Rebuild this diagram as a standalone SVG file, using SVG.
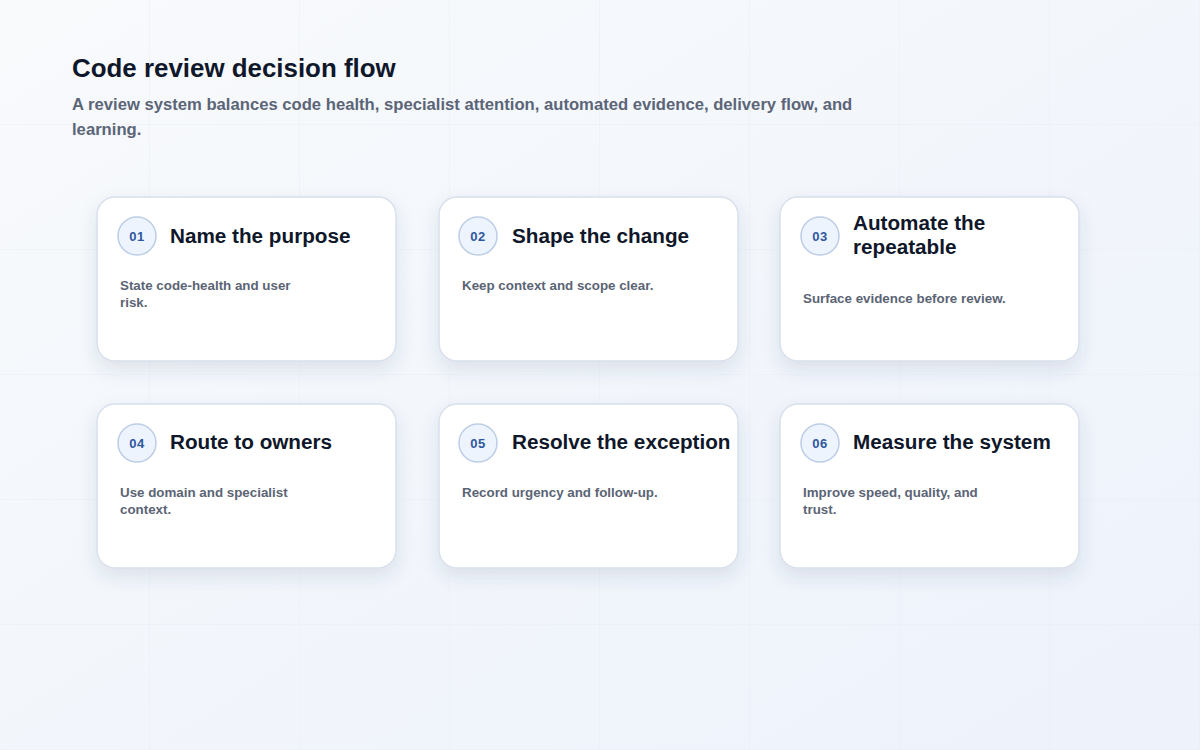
<svg xmlns="http://www.w3.org/2000/svg" width="1200" height="750" viewBox="0 0 1200 750">
<defs>
<linearGradient id="bg" x1="0" y1="0" x2="1" y2="1">
<stop offset="0" stop-color="#f8fafc"/>
<stop offset="1" stop-color="#edf2fb"/>
</linearGradient>
<pattern id="grid" width="150" height="125" patternUnits="userSpaceOnUse" x="0" y="0">
<path d="M150 0V125M0 125H150" fill="none" stroke="#e6ebf2" stroke-width="1"/>
</pattern>
<filter id="sh" x="-20%" y="-20%" width="140%" height="150%">
<feDropShadow dx="0" dy="8" stdDeviation="9" flood-color="#334766" flood-opacity="0.12"/>
</filter>
</defs>
<style>
.card{fill:#ffffff;stroke:#d8e0ec;stroke-width:1.5;filter:url(#sh)}
.badge{fill:#eef4fe;stroke:#bccde6;stroke-width:1.5}
.num{font-family:"Liberation Sans",Arial,sans-serif;font-size:13px;font-weight:700;fill:#2e57a0;text-anchor:middle;letter-spacing:0.5px}
.ttl{font-family:"Liberation Sans",Arial,sans-serif;font-size:20.7px;font-weight:700;fill:#0f172a}
.desc{font-family:"Liberation Sans",Arial,sans-serif;font-size:13.35px;font-weight:700;fill:#5b6475}
.h1{font-family:"Liberation Sans",Arial,sans-serif;font-size:25.9px;font-weight:700;fill:#0f172a}
.sub{font-family:"Liberation Sans",Arial,sans-serif;font-size:16.65px;font-weight:700;fill:#5b6577}
</style>
<rect width="1200" height="750" fill="url(#bg)"/>
<rect width="1200" height="750" fill="url(#grid)" opacity="0.8"/>
<g id="header">
<text class="h1" x="72" y="77">Code review decision flow</text>
<text class="sub" x="72" y="110">A review system balances code health, specialist attention, automated evidence, delivery flow, and</text>
<text class="sub" x="72" y="135">learning.</text>
</g>
<g id="connectors"></g>
<g id="node1">
<rect class="card" x="97" y="197" width="299" height="164" rx="18"/>
<circle class="badge" cx="137" cy="236" r="19"/>
<text class="num" x="137" y="241">01</text>
<text class="ttl" x="170" y="243">Name the purpose</text>
<text class="desc" x="120" y="290">State code-health and user</text>
<text class="desc" x="120" y="307">risk.</text>
</g>
<g id="node2">
<rect class="card" x="439" y="197" width="299" height="164" rx="18"/>
<circle class="badge" cx="478" cy="236" r="19"/>
<text class="num" x="478" y="241">02</text>
<text class="ttl" x="512" y="243">Shape the change</text>
<text class="desc" x="462" y="290">Keep context and scope clear.</text>
</g>
<g id="node3">
<rect class="card" x="780" y="197" width="299" height="164" rx="18"/>
<circle class="badge" cx="820" cy="236" r="19"/>
<text class="num" x="820" y="241">03</text>
<text class="ttl" x="853" y="230">Automate the</text>
<text class="ttl" x="853" y="254">repeatable</text>
<text class="desc" x="803" y="303">Surface evidence before review.</text>
</g>
<g id="node4">
<rect class="card" x="97" y="404" width="299" height="164" rx="18"/>
<circle class="badge" cx="137" cy="443" r="19"/>
<text class="num" x="137" y="448">04</text>
<text class="ttl" x="170" y="449">Route to owners</text>
<text class="desc" x="120" y="497">Use domain and specialist</text>
<text class="desc" x="120" y="514">context.</text>
</g>
<g id="node5">
<rect class="card" x="439" y="404" width="299" height="164" rx="18"/>
<circle class="badge" cx="478" cy="443" r="19"/>
<text class="num" x="478" y="448">05</text>
<text class="ttl" x="512" y="449">Resolve the exception</text>
<text class="desc" x="462" y="497">Record urgency and follow-up.</text>
</g>
<g id="node6">
<rect class="card" x="780" y="404" width="299" height="164" rx="18"/>
<circle class="badge" cx="820" cy="443" r="19"/>
<text class="num" x="820" y="448">06</text>
<text class="ttl" x="853" y="449">Measure the system</text>
<text class="desc" x="803" y="497">Improve speed, quality, and</text>
<text class="desc" x="803" y="514">trust.</text>
</g>
</svg>
